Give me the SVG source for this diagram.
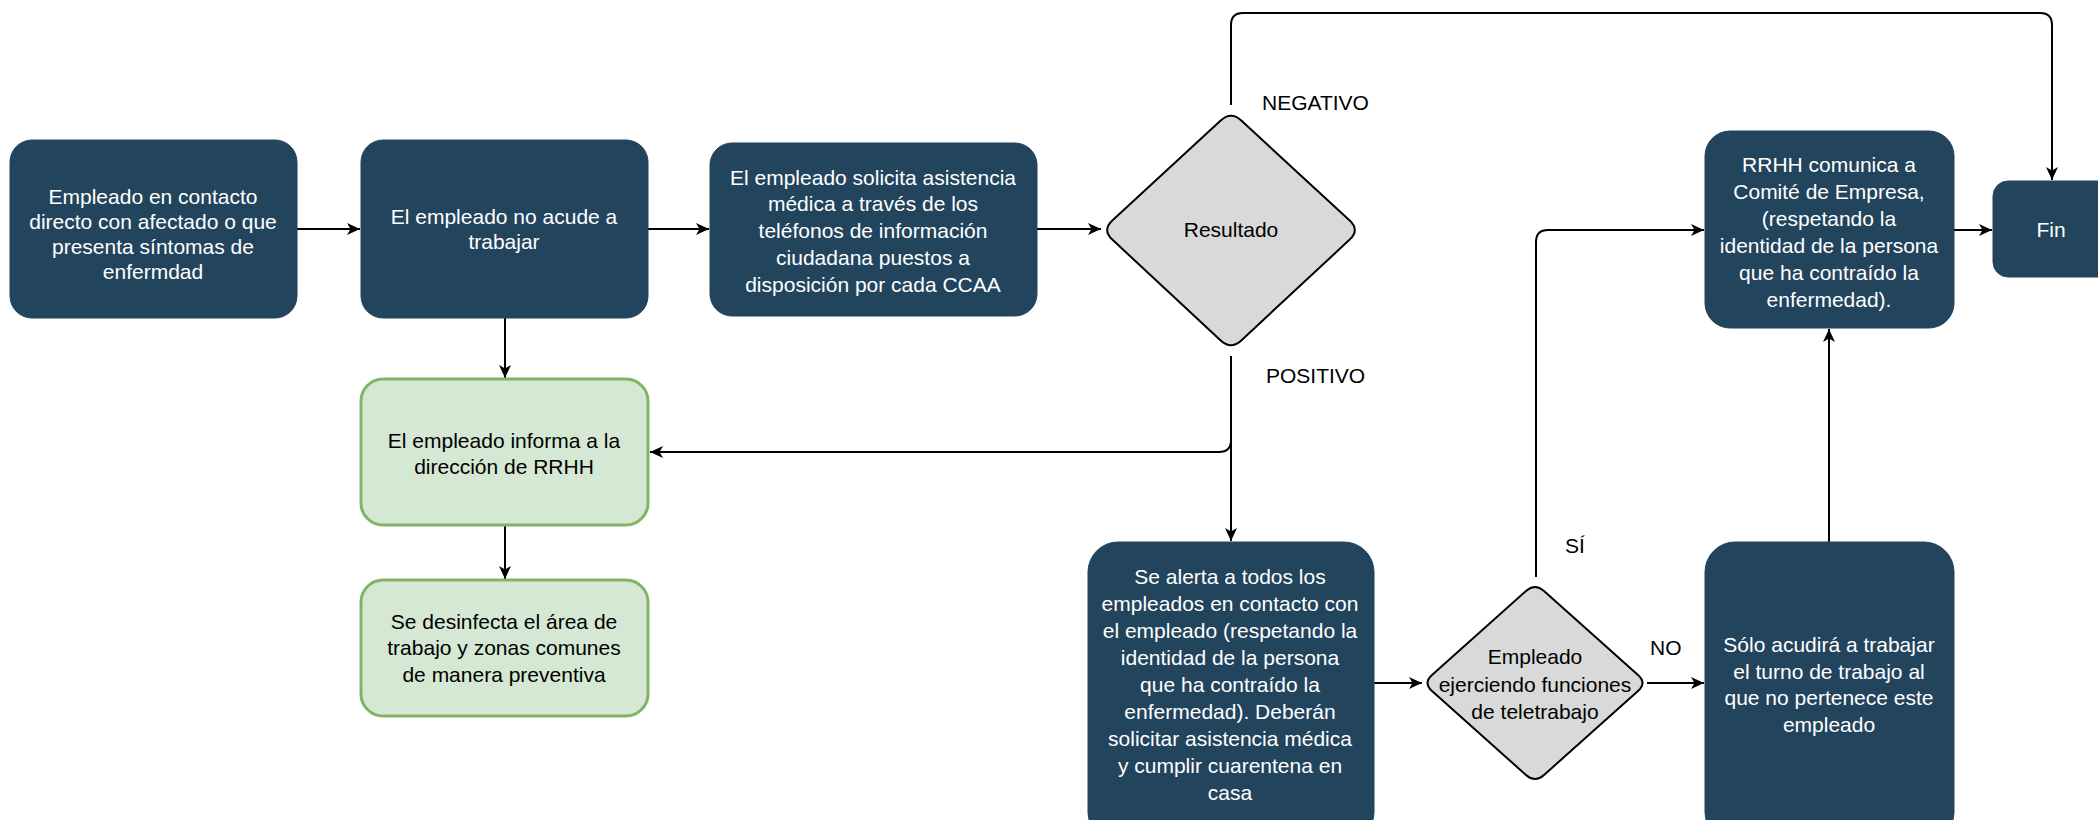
<svg xmlns="http://www.w3.org/2000/svg" width="2098" height="820" viewBox="0 0 2098 820">
<style>
.dark{fill:#23445D;stroke:#23445D;stroke-width:1}
.green{fill:#D5E8D4;stroke:#82B366;stroke-width:3}
.dia{fill:#D9D9D9;stroke:#000;stroke-width:2;stroke-linejoin:round}
text{font-family:"Liberation Sans",Arial,Helvetica,sans-serif;font-size:21px;text-anchor:middle}
.w{fill:#FFFFFF}
.b{fill:#000000}
.lbl{text-anchor:start;fill:#000}
.edge{fill:none;stroke:#000;stroke-width:2;marker-end:url(#arr)}
.line{fill:none;stroke:#000;stroke-width:2}
</style>
<defs>
<marker id="arr" markerWidth="14" markerHeight="12" refX="13" refY="6" orient="auto" markerUnits="userSpaceOnUse">
<path d="M0,0 L13,6 L0,12 L3.5,6 Z" fill="#000"/>
</marker>
</defs>
<rect width="2098" height="820" fill="#FFFFFF"/>
<g id="connectors">
<path class="edge" d="M297,229 L360,229"/>
<path class="edge" d="M648,229 L709,229"/>
<path class="edge" d="M1037,229 L1101,229"/>
<path class="edge" d="M505,318 L505,378"/>
<path class="edge" d="M505,526 L505,579"/>
<path class="edge" d="M1231,105 L1231,25 Q1231,13 1243,13 L2040,13 Q2052,13 2052,25 L2052,180"/>
<path class="edge" d="M1231,356 L1231,440 Q1231,452 1219,452 L650,452"/>
<path class="edge" d="M1231,356 L1231,541"/>
<path class="edge" d="M1374,683 L1422,683"/>
<path class="edge" d="M1647,683 L1704,683"/>
<path class="edge" d="M1536,577 L1536,242 Q1536,230 1548,230 L1704,230"/>
<path class="edge" d="M1829,542 L1829,329"/>
<path class="edge" d="M1954,230 L1992,230"/>
<text class="lbl" x="1262" y="110">NEGATIVO</text>
<text class="lbl" x="1266" y="383">POSITIVO</text>
<text class="lbl" x="1565" y="553">SÍ</text>
<text class="lbl" x="1650" y="655">NO</text>
</g>
<g id="n1">
<rect class="dark" x="10" y="140" width="287" height="178" rx="22"/>
<text class="w"><tspan x="153" y="204">Empleado en contacto</tspan><tspan x="153" y="229">directo con afectado o que</tspan><tspan x="153" y="254">presenta síntomas de</tspan><tspan x="153" y="279">enfermdad</tspan></text>
</g>
<g id="n2">
<rect class="dark" x="361" y="140" width="287" height="178" rx="22"/>
<text class="w"><tspan x="504" y="224">El empleado no acude a</tspan><tspan x="504" y="249">trabajar</tspan></text>
</g>
<g id="n3">
<rect class="dark" x="710" y="143" width="327" height="173" rx="22"/>
<text class="w"><tspan x="873" y="185">El empleado solicita asistencia</tspan><tspan x="873" y="211">médica a través de los</tspan><tspan x="873" y="238">teléfonos de información</tspan><tspan x="873" y="265">ciudadana puestos a</tspan><tspan x="873" y="292">disposición por cada CCAA</tspan></text>
</g>
<g id="d1">
<path class="dia" d="M1220.7,120.6 Q1231,111 1241.3,120.6 L1349.7,220.4 Q1360,230 1349.7,239.6 L1241.3,340.4 Q1231,350 1220.7,340.4 L1112.3,239.6 Q1102,230 1112.3,220.4 Z"/>
<text class="b" x="1231" y="237">Resultado</text>
</g>
<g id="g1">
<rect class="green" x="361" y="379" width="287" height="146" rx="22"/>
<text class="b"><tspan x="504" y="448">El empleado informa a la</tspan><tspan x="504" y="474">dirección de RRHH</tspan></text>
</g>
<g id="g2">
<rect class="green" x="361" y="580" width="287" height="136" rx="22"/>
<text class="b"><tspan x="504" y="629">Se desinfecta el área de</tspan><tspan x="504" y="655">trabajo y zonas comunes</tspan><tspan x="504" y="682">de manera preventiva</tspan></text>
</g>
<g id="alert">
<rect class="dark" x="1088" y="542" width="286" height="300" rx="30"/>
<text class="w"><tspan x="1230" y="584">Se alerta a todos los</tspan><tspan x="1230" y="611">empleados en contacto con</tspan><tspan x="1230" y="638">el empleado (respetando la</tspan><tspan x="1230" y="665">identidad de la persona</tspan><tspan x="1230" y="692">que ha contraído la</tspan><tspan x="1230" y="719">enfermedad). Deberán</tspan><tspan x="1230" y="746">solicitar asistencia médica</tspan><tspan x="1230" y="773">y cumplir cuarentena en</tspan><tspan x="1230" y="800">casa</tspan></text>
</g>
<g id="d2">
<path class="dia" d="M1526,591 Q1535,583 1544,591 L1638,675 Q1647,683 1638,691 L1544,775 Q1535,783 1526,775 L1432,691 Q1423,683 1432,675 Z"/>
<text class="b"><tspan x="1535" y="664">Empleado</tspan><tspan x="1535" y="692">ejerciendo funciones</tspan><tspan x="1535" y="719">de teletrabajo</tspan></text>
</g>
<g id="solo">
<rect class="dark" x="1705" y="542" width="249" height="300" rx="30"/>
<text class="w"><tspan x="1829" y="652">Sólo acudirá a trabajar</tspan><tspan x="1829" y="679">el turno de trabajo al</tspan><tspan x="1829" y="705">que no pertenece este</tspan><tspan x="1829" y="732">empleado</tspan></text>
</g>
<g id="rrhh">
<rect class="dark" x="1705" y="131" width="249" height="197" rx="25"/>
<text class="w"><tspan x="1829" y="172">RRHH comunica a</tspan><tspan x="1829" y="199">Comité de Empresa,</tspan><tspan x="1829" y="226">(respetando la</tspan><tspan x="1829" y="253">identidad de la persona</tspan><tspan x="1829" y="280">que ha contraído la</tspan><tspan x="1829" y="307">enfermedad).</tspan></text>
</g>
<g id="fin">
<rect class="dark" x="1993" y="181" width="125" height="96" rx="15"/>
<text class="w" x="2051" y="237">Fin</text>
</g>
</svg>
